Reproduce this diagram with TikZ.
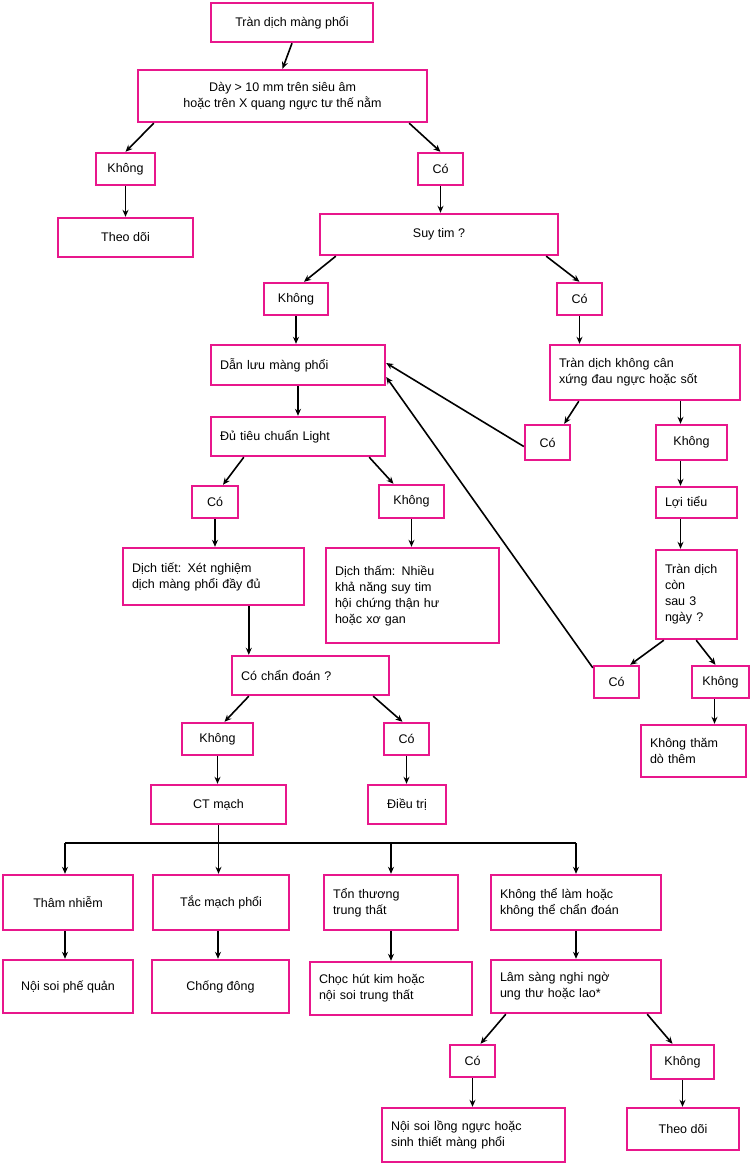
\documentclass[tikz,border=0pt]{standalone}
\usepackage{fontspec}
\setmainfont{Liberation Sans}
\usetikzlibrary{arrows.meta}
\definecolor{pk}{HTML}{E8178C}
\newcommand\bx[7]{%
\pgfmathsetmacro\bw{#4-#2}\pgfmathsetmacro\bh{#5-#3}%
\pgfmathsetmacro\bcx{(#2+#4)/2}\pgfmathsetmacro\bcy{-(#3+#5)/2}%
\pgfmathsetmacro\tw{#4-#2-18}%
\node[box,#6] (#1) at (\bcx pt,\bcy pt) {#7};}
\begin{document}
\begin{tikzpicture}[
 box/.style={draw=pk,line width=2.4pt,fill=white,minimum width=\bw pt,minimum height=\bh pt,inner xsep=9pt,inner ysep=2pt,font=\fontsize{12.5}{16}\selectfont},
 c/.style={align=center},
 l/.style={text width=\tw pt,align=left},
 arr/.style={line width=1.6pt,-{Stealth[length=7pt,width=6pt]}},
 ln/.style={line width=1.6pt}]
\useasboundingbox (0,0) rectangle (750pt,-1165pt);
\bx{t1}{211}{3}{373}{42}{c}{Tràn dịch màng phổi}
\bx{t2}{138}{70}{427}{122}{c}{Dày > 10 mm trên siêu âm\\hoặc trên X quang ngực tư thế nằm}
\bx{k1}{96}{153}{155}{185}{c}{Không}
\bx{c1}{418}{153}{463}{185}{c}{Có}
\bx{theo1}{58}{218}{193}{257}{c}{Theo dõi}
\bx{suy}{320}{214}{558}{255}{c}{Suy tim ?}
\bx{k2}{264}{283}{328}{315}{c}{Không}
\bx{c2}{557}{283}{602}{315}{c}{Có}
\bx{dan}{211}{345}{385}{385}{l}{Dẫn lưu màng phổi}
\bx{tran2}{550}{345}{740}{400}{l}{Tràn dịch không cân\\xứng đau ngực hoặc sốt}
\bx{c3}{525}{425}{570}{460}{c}{Có}
\bx{k3}{656}{425}{727}{460}{c}{Không}
\bx{du}{211}{417}{385}{456}{l}{Đủ tiêu chuẩn Light}
\bx{c4}{192}{486}{238}{518}{c}{Có}
\bx{k4}{379}{485}{444}{518}{c}{Không}
\bx{dt}{123}{548}{304}{605}{l}{Dịch tiết: Xét nghiệm\\dịch màng phổi đầy đủ}
\bx{dth}{326}{548}{499}{643}{l}{Dịch thấm: Nhiều\\khả năng suy tim\\hội chứng thận hư\\hoặc xơ gan}
\bx{loi}{656}{487}{737}{518}{l}{Lợi tiểu}
\bx{tran3}{656}{550}{737}{639}{l}{Tràn dịch\\còn\\sau 3\\ngày ?}
\bx{cd}{232}{656}{389}{695}{l}{Có chẩn đoán ?}
\bx{c5}{594}{666}{639}{698}{c}{Có}
\bx{k5}{692}{666}{749}{698}{c}{Không}
\bx{kt}{641}{725}{746}{777}{l}{Không thăm\\dò thêm}
\bx{k6}{182}{723}{253}{755}{c}{Không}
\bx{c6}{384}{723}{429}{755}{c}{Có}
\bx{ct}{151}{785}{286}{824}{c}{CT mạch}
\bx{dieu}{368}{785}{446}{824}{c}{Điều trị}
\bx{tham}{3}{875}{133}{930}{c}{Thâm nhiễm}
\bx{tac}{153}{875}{289}{930}{c}{Tắc mạch phổi}
\bx{ton}{324}{875}{458}{930}{l}{Tổn thương\\trung thất}
\bx{kth}{491}{875}{661}{930}{l}{Không thể làm hoặc\\không thể chẩn đoán}
\bx{noi}{3}{960}{133}{1013}{c}{Nội soi phế quản}
\bx{chong}{152}{960}{289}{1013}{c}{Chống đông}
\bx{choc}{310}{962}{472}{1015}{l}{Chọc hút kim hoặc\\nội soi trung thất}
\bx{lam}{491}{960}{661}{1013}{l}{Lâm sàng nghi ngờ\\ung thư hoặc lao*}
\bx{c7}{450}{1045}{495}{1077}{c}{Có}
\bx{k7}{651}{1045}{714}{1079}{c}{Không}
\bx{noi2}{382}{1108}{565}{1162}{l}{Nội soi lồng ngực hoặc\\sinh thiết màng phổi}
\bx{theo2}{627}{1108}{739}{1150}{c}{Theo dõi}
\coordinate (bus) at (0,-843pt);
\draw[arr] (t1.south) -- (t2.north);
\draw[arr] ([xshift=17pt]t2.south west) -- (k1.north);
\draw[arr] ([xshift=-19pt]t2.south east) -- (c1.north);
\draw[arr] (k1.south) -- (theo1.north);
\draw[arr] (c1.south) -- (c1.south |- suy.north);
\draw[arr] ([xshift=17pt]suy.south west) -- ([xshift=8pt]k2.north);
\draw[arr] ([xshift=-13pt]suy.south east) -- (c2.north);
\draw[arr] (k2.south) -- (k2.south |- dan.north);
\draw[arr] (c2.south) -- (c2.south |- tran2.north);
\draw[arr] ([xshift=30pt]tran2.south west) -- ([xshift=-7pt]c3.north east);
\draw[arr] ([xshift=-11pt]k3.north |- tran2.south) -- ([xshift=-11pt]k3.north);
\draw[arr] ([yshift=-4pt]c3.west) -- ([yshift=2pt]dan.east);
\draw[arr] ([yshift=-3pt]c5.north west) -- ([yshift=-12pt]dan.east);
\draw[arr] (dan.south) -- (du.north);
\draw[arr] ([xshift=34pt]du.south west) -- ([xshift=8pt]c4.north);
\draw[arr] ([xshift=-17pt]du.south east) -- ([xshift=-18pt]k4.north);
\draw[arr] (c4.south) -- (c4.south |- dt.north);
\draw[arr] (k4.south) -- (k4.south |- dth.north);
\draw[arr] ([xshift=127pt]dt.south west) -- ([xshift=127pt]dt.south west |- cd.north);
\draw[arr] ([xshift=-11pt]k3.south) -- ([xshift=-11pt]k3.south |- loi.north);
\draw[arr] ([xshift=-16pt]loi.south) -- ([xshift=-16pt]loi.south |- tran3.north);
\draw[arr] ([xshift=9pt]tran3.south west) -- ([xshift=-10pt]c5.north east);
\draw[arr] ([xshift=-42pt]tran3.south east) -- ([xshift=-5pt]k5.north);
\draw[arr] ([xshift=-6pt]k5.south) -- ([xshift=-6pt]k5.south |- kt.north);
\draw[arr] ([xshift=18pt]cd.south west) -- ([xshift=7pt]k6.north);
\draw[arr] ([xshift=-17pt]cd.south east) -- ([xshift=-4pt]c6.north);
\draw[arr] (k6.south) -- (k6.south |- ct.north);
\draw[arr] (c6.south) -- (c6.south |- dieu.north);
\draw[ln] ([xshift=-3pt]tham.north |- bus) -- (kth.north |- bus);
\draw[arr] (ct.south) -- (ct.south |- tac.north);
\draw[arr] ([xshift=-3pt]tham.north |- bus) -- ([xshift=-3pt]tham.north);
\draw[arr] (ton.north |- bus) -- (ton.north);
\draw[arr] (kth.north |- bus) -- (kth.north);
\draw[arr] ([xshift=-3pt]tham.south) -- ([xshift=-3pt]tham.south |- noi.north);
\draw[arr] ([xshift=-3pt]tac.south) -- ([xshift=-3pt]tac.south |- chong.north);
\draw[arr] (ton.south) -- (ton.south |- choc.north);
\draw[arr] (kth.south) -- (lam.north);
\draw[arr] ([xshift=16pt]lam.south west) -- ([xshift=8pt]c7.north);
\draw[arr] ([xshift=-15pt]lam.south east) -- ([xshift=-10pt]k7.north);
\draw[arr] (c7.south) -- (c7.south |- noi2.north);
\draw[arr] (k7.south) -- (k7.south |- theo2.north);
\end{tikzpicture}
\end{document}
